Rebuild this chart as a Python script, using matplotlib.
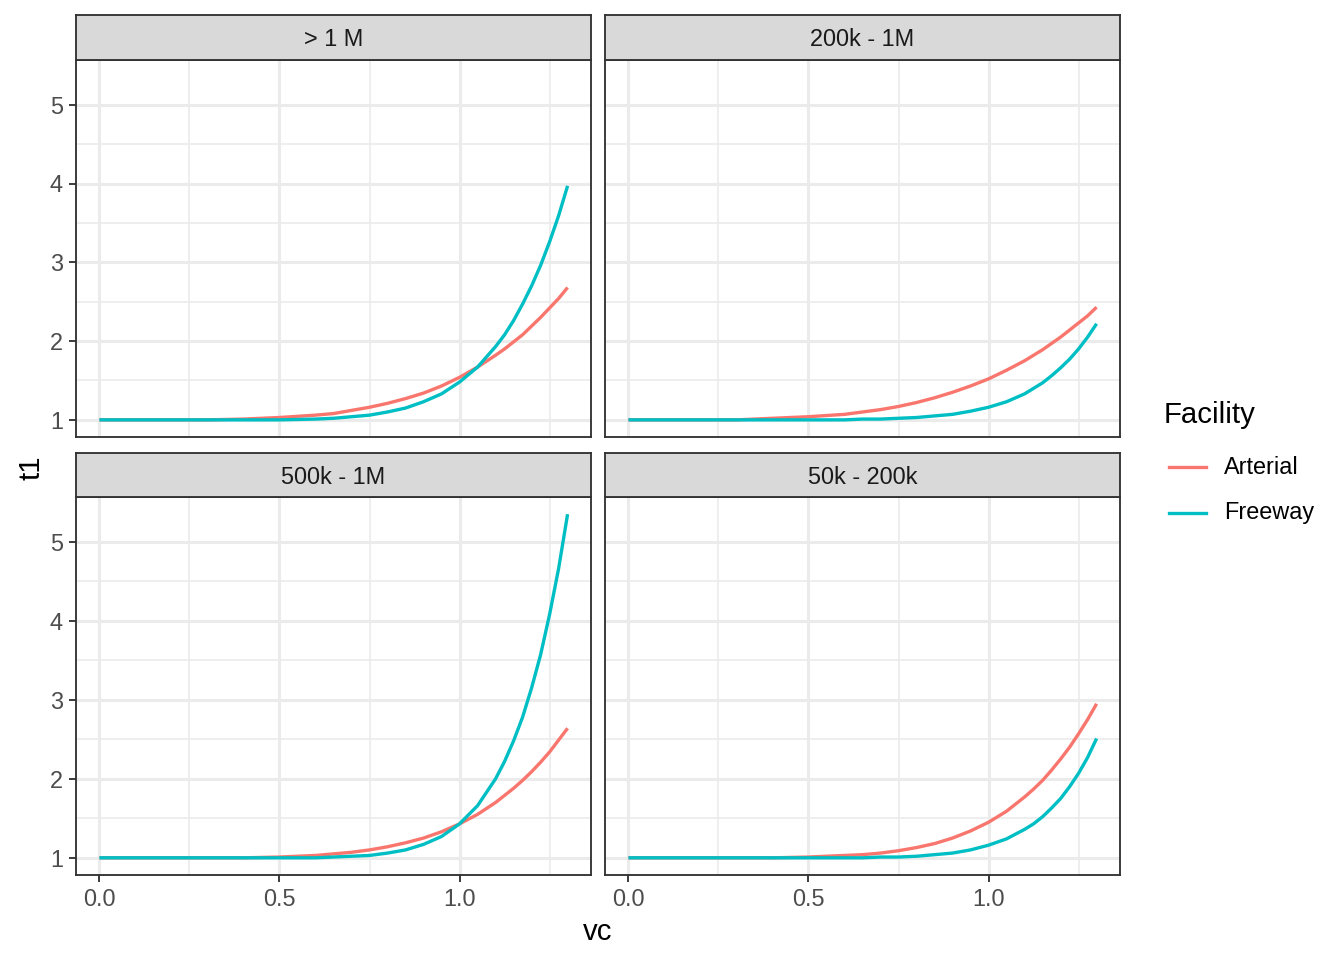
import matplotlib
matplotlib.use("Agg")
import matplotlib.pyplot as plt
from matplotlib.lines import Line2D

plt.rcParams['font.family'] = ['Liberation Sans', 'DejaVu Sans']

# ---- data ----
vc = [0.0, 0.1, 0.2, 0.3, 0.4, 0.5, 0.6, 0.65, 0.7, 0.75, 0.8, 0.85, 0.9, 0.95,
      1.0, 1.05, 1.1, 1.125, 1.15, 1.175, 1.2, 1.225, 1.25, 1.275, 1.3]

panels = ["> 1 M", "200k - 1M", "500k - 1M", "50k - 200k"]
facilities = ["Arterial", "Freeway"]

arterial_1m = [1.00, 1.00, 1.00, 1.00, 1.01, 1.03, 1.06, 1.08, 1.12, 1.16, 1.21, 1.27, 1.34, 1.43,
               1.54, 1.67, 1.82, 1.90, 1.99, 2.08, 2.19, 2.30, 2.42, 2.54, 2.68]
freeway_1m = [1.00, 1.00, 1.00, 1.00, 1.00, 1.00, 1.01, 1.02, 1.04, 1.06, 1.10, 1.15, 1.23, 1.33,
              1.48, 1.67, 1.93, 2.08, 2.26, 2.47, 2.70, 2.96, 3.26, 3.59, 3.97]
arterial_200k_1m = [1.00, 1.00, 1.00, 1.00, 1.02, 1.04, 1.07, 1.10, 1.13, 1.17, 1.22, 1.28, 1.35, 1.43,
                    1.52, 1.63, 1.75, 1.82, 1.89, 1.97, 2.05, 2.14, 2.23, 2.32, 2.43]
freeway_200k_1m = [1.00, 1.00, 1.00, 1.00, 1.00, 1.00, 1.00, 1.01, 1.01, 1.02, 1.03, 1.05, 1.07, 1.11,
                   1.16, 1.23, 1.33, 1.40, 1.47, 1.56, 1.66, 1.77, 1.90, 2.05, 2.22]
arterial_500k_1m = [1.00, 1.00, 1.00, 1.00, 1.00, 1.01, 1.03, 1.05, 1.07, 1.10, 1.14, 1.19, 1.25, 1.33,
                    1.43, 1.55, 1.70, 1.79, 1.88, 1.98, 2.09, 2.21, 2.34, 2.49, 2.64]
freeway_500k_1m = [1.00, 1.00, 1.00, 1.00, 1.00, 1.00, 1.00, 1.01, 1.02, 1.03, 1.06, 1.10, 1.17, 1.27,
                   1.43, 1.66, 2.00, 2.22, 2.48, 2.78, 3.15, 3.57, 4.08, 4.66, 5.35]
arterial_50k_200k = [1.00, 1.00, 1.00, 1.00, 1.00, 1.01, 1.03, 1.04, 1.06, 1.09, 1.13, 1.18, 1.25, 1.34,
                     1.45, 1.59, 1.77, 1.87, 1.98, 2.11, 2.25, 2.40, 2.57, 2.75, 2.95]
freeway_50k_200k = [1.00, 1.00, 1.00, 1.00, 1.00, 1.00, 1.00, 1.00, 1.01, 1.01, 1.02, 1.04, 1.06, 1.10,
                    1.16, 1.24, 1.36, 1.43, 1.52, 1.63, 1.75, 1.90, 2.07, 2.27, 2.51]

series = {
    "> 1 M": (arterial_1m, freeway_1m),
    "200k - 1M": (arterial_200k_1m, freeway_200k_1m),
    "500k - 1M": (arterial_500k_1m, freeway_500k_1m),
    "50k - 200k": (arterial_50k_200k, freeway_50k_200k),
}

x_ticks = [0.0, 0.5, 1.0]
x_tick_labels = ["0.0", "0.5", "1.0"]
y_ticks = [1, 2, 3, 4, 5]

colors = {"Arterial": "#F8766D", "Freeway": "#00BFC4"}

# ---- layout ----
W, H = 1344, 960
fig = plt.figure(figsize=(7, 5), dpi=192)

def fx(px):
    return px / W

def fy(py):
    return 1 - py / H

grey20 = "#333333"
grey30 = "#4D4D4D"
grid_major = "#EBEBEB"

col_x = [(76, 591), (605, 1120)]
row_y = [((15, 60), (60, 437)), ((453, 497), (497, 875))]

all_vals = [v for pair in series.values() for s in pair for v in s]
ymin, ymax = min(all_vals), max(all_vals)
yr = ymax - ymin
ylim = (ymin - 0.05 * yr, ymax + 0.05 * yr)
xr = max(vc) - min(vc)
xlim = (min(vc) - 0.05 * xr, max(vc) + 0.05 * xr)

for i, name in enumerate(panels):
    r, c = divmod(i, 2)
    (sx0, sx1) = col_x[c]
    (st0, st1), (py0, py1) = row_y[r]
    ax = fig.add_axes([fx(sx0), fy(py1), fx(sx1 - sx0), (py1 - py0) / H])
    ax.set_facecolor("white")
    ax.set_xlim(*xlim)
    ax.set_ylim(*ylim)
    # grid
    for gx in [0.25, 0.75, 1.25]:
        ax.axvline(gx, color=grid_major, lw=0.6, zorder=0)
    for gy in [1.5, 2.5, 3.5, 4.5]:
        ax.axhline(gy, color=grid_major, lw=0.6, zorder=0)
    for gx in x_ticks:
        ax.axvline(gx, color=grid_major, lw=1.15, zorder=0)
    for gy in y_ticks:
        ax.axhline(gy, color=grid_major, lw=1.15, zorder=0)
    art, fwy = series[name]
    ax.plot(vc, art, color=colors["Arterial"], lw=1.25, zorder=3,
            solid_capstyle="butt", solid_joinstyle="round")
    ax.plot(vc, fwy, color=colors["Freeway"], lw=1.25, zorder=3,
            solid_capstyle="butt", solid_joinstyle="round")
    for sp in ax.spines.values():
        sp.set_color(grey20)
        sp.set_linewidth(0.7)
    ax.set_xticks(x_ticks)
    ax.set_yticks(y_ticks)
    ax.tick_params(axis="both", length=2.75, width=0.7, color=grey20,
                   labelsize=8.8, labelcolor=grey30, pad=2.2)
    if c == 0:
        ax.set_yticklabels([str(t) for t in y_ticks])
    else:
        ax.tick_params(axis="y", left=False, labelleft=False)
    if r == 1:
        ax.set_xticklabels(x_tick_labels)
    else:
        ax.tick_params(axis="x", bottom=False, labelbottom=False)

    # strip
    sax = fig.add_axes([fx(sx0), fy(st1), fx(sx1 - sx0), (st1 - st0) / H])
    sax.set_facecolor("#D9D9D9")
    sax.set_xticks([])
    sax.set_yticks([])
    for sp in sax.spines.values():
        sp.set_color(grey20)
        sp.set_linewidth(0.7)
    sax.text(0.5, 0.45, name, ha="center", va="center", fontsize=8.8,
             color="#1A1A1A", transform=sax.transAxes)

# axis titles
fig.text(fx((77 + 1119) / 2), fy(932), "vc", ha="center", va="center", fontsize=11, color="black")
fig.text(fx(31), fy((60 + 875) / 2), "t1", ha="center", va="center", rotation=90,
         fontsize=11, color="black")

# legend
fig.text(fx(1164), fy(415), "Facility", ha="left", va="center", fontsize=11, color="black")
for k, (fac, yy) in enumerate(zip(facilities, [467, 513])):
    fig.add_artist(Line2D([fx(1169), fx(1206)], [fy(yy), fy(yy)], color=colors[fac],
                          lw=1.25, transform=fig.transFigure))
    fig.text(fx(1224), fy(yy), fac, ha="left", va="center", fontsize=8.8, color="black")

fig.savefig("out.png", dpi=192, facecolor="white")
